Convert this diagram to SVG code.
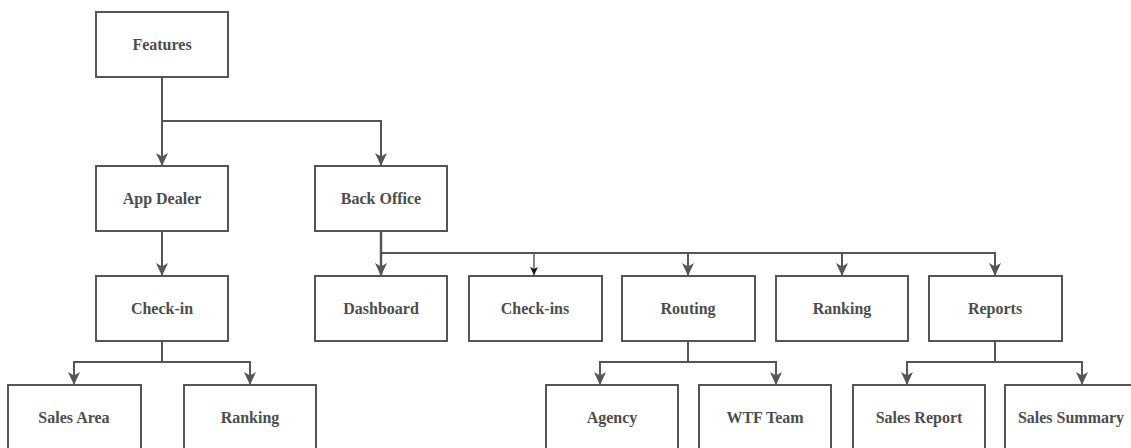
<svg xmlns="http://www.w3.org/2000/svg" width="1131" height="448" viewBox="0 0 1131 448">
<style>
.box{fill:#fff;stroke:#555;stroke-width:2}
.lbl{font-family:"Liberation Serif","Times New Roman",serif;font-weight:bold;font-size:16px;fill:#4d4d4d;text-anchor:middle}
.c{fill:none;stroke:#555;stroke-width:2}
.t{fill:none;stroke:#111;stroke-width:1}
</style>
<defs>
<marker id="a" markerUnits="userSpaceOnUse" viewBox="0 0 13 12" refX="12" refY="6" markerWidth="13" markerHeight="12" orient="auto">
<path d="M0,0 L13,6 L0,12 L3.5,6 Z" fill="#555"/>
</marker>
<marker id="s" markerUnits="userSpaceOnUse" viewBox="0 0 8 8" refX="8" refY="4" markerWidth="8" markerHeight="8" orient="auto">
<path d="M0,0 L8,4 L0,8 L2,4 Z" fill="#111"/>
</marker>
</defs>
<g id="connectors">
<path class="c" d="M162,77 V165" marker-end="url(#a)"/>
<path class="c" d="M162,77 V121 H381 V165" marker-end="url(#a)"/>
<path class="c" d="M162,231 V275" marker-end="url(#a)"/>
<path class="c" d="M381,231 V275" marker-end="url(#a)" style="stroke-width:2.5"/>
<path class="c" d="M381,231 V253 H534"/>
<path class="t" d="M534,253 V275" marker-end="url(#s)"/>
<path class="c" d="M381,231 V253 H688 V275" marker-end="url(#a)"/>
<path class="c" d="M381,231 V253 H842 V275" marker-end="url(#a)"/>
<path class="c" d="M381,231 V253 H995 V275" marker-end="url(#a)"/>
<path class="c" d="M162,341 V362 H74 V384" marker-end="url(#a)"/>
<path class="c" d="M162,341 V362 H250 V384" marker-end="url(#a)"/>
<path class="c" d="M688,341 V362 H600 V384" marker-end="url(#a)"/>
<path class="c" d="M688,341 V362 H776 V384" marker-end="url(#a)"/>
<path class="c" d="M995,341 V362 H907 V384" marker-end="url(#a)"/>
<path class="c" d="M995,341 V362 H1082 V384" marker-end="url(#a)"/>
</g>
<g id="features"><rect class="box" x="96" y="12" width="132" height="65"/><text class="lbl" x="162" y="50">Features</text></g>
<g id="app-dealer"><rect class="box" x="96" y="166" width="132" height="65"/><text class="lbl" x="162" y="204">App Dealer</text></g>
<g id="back-office"><rect class="box" x="315" y="166" width="132" height="65"/><text class="lbl" x="381" y="204">Back Office</text></g>
<g id="check-in"><rect class="box" x="96" y="276" width="132" height="65"/><text class="lbl" x="162" y="314">Check-in</text></g>
<g id="dashboard"><rect class="box" x="315" y="276" width="132" height="65"/><text class="lbl" x="381" y="314">Dashboard</text></g>
<g id="check-ins"><rect class="box" x="469" y="276" width="133" height="65"/><text class="lbl" x="535" y="314">Check-ins</text></g>
<g id="routing"><rect class="box" x="622" y="276" width="133" height="65"/><text class="lbl" x="688" y="314">Routing</text></g>
<g id="ranking-bo"><rect class="box" x="776" y="276" width="132" height="65"/><text class="lbl" x="842" y="314">Ranking</text></g>
<g id="reports"><rect class="box" x="929" y="276" width="133" height="65"/><text class="lbl" x="995" y="314">Reports</text></g>
<g id="sales-area"><rect class="box" x="8" y="385" width="133" height="65"/><text class="lbl" x="74" y="423">Sales Area</text></g>
<g id="ranking-ci"><rect class="box" x="184" y="385" width="132" height="65"/><text class="lbl" x="250" y="423">Ranking</text></g>
<g id="agency"><rect class="box" x="546" y="385" width="132" height="65"/><text class="lbl" x="612" y="423">Agency</text></g>
<g id="wtf-team"><rect class="box" x="699" y="385" width="132" height="65"/><text class="lbl" x="765" y="423">WTF Team</text></g>
<g id="sales-report"><rect class="box" x="853" y="385" width="132" height="65"/><text class="lbl" x="919" y="423">Sales Report</text></g>
<g id="sales-summary"><rect class="box" x="1005" y="385" width="132" height="65"/><text class="lbl" x="1071" y="423">Sales Summary</text></g>
</svg>
